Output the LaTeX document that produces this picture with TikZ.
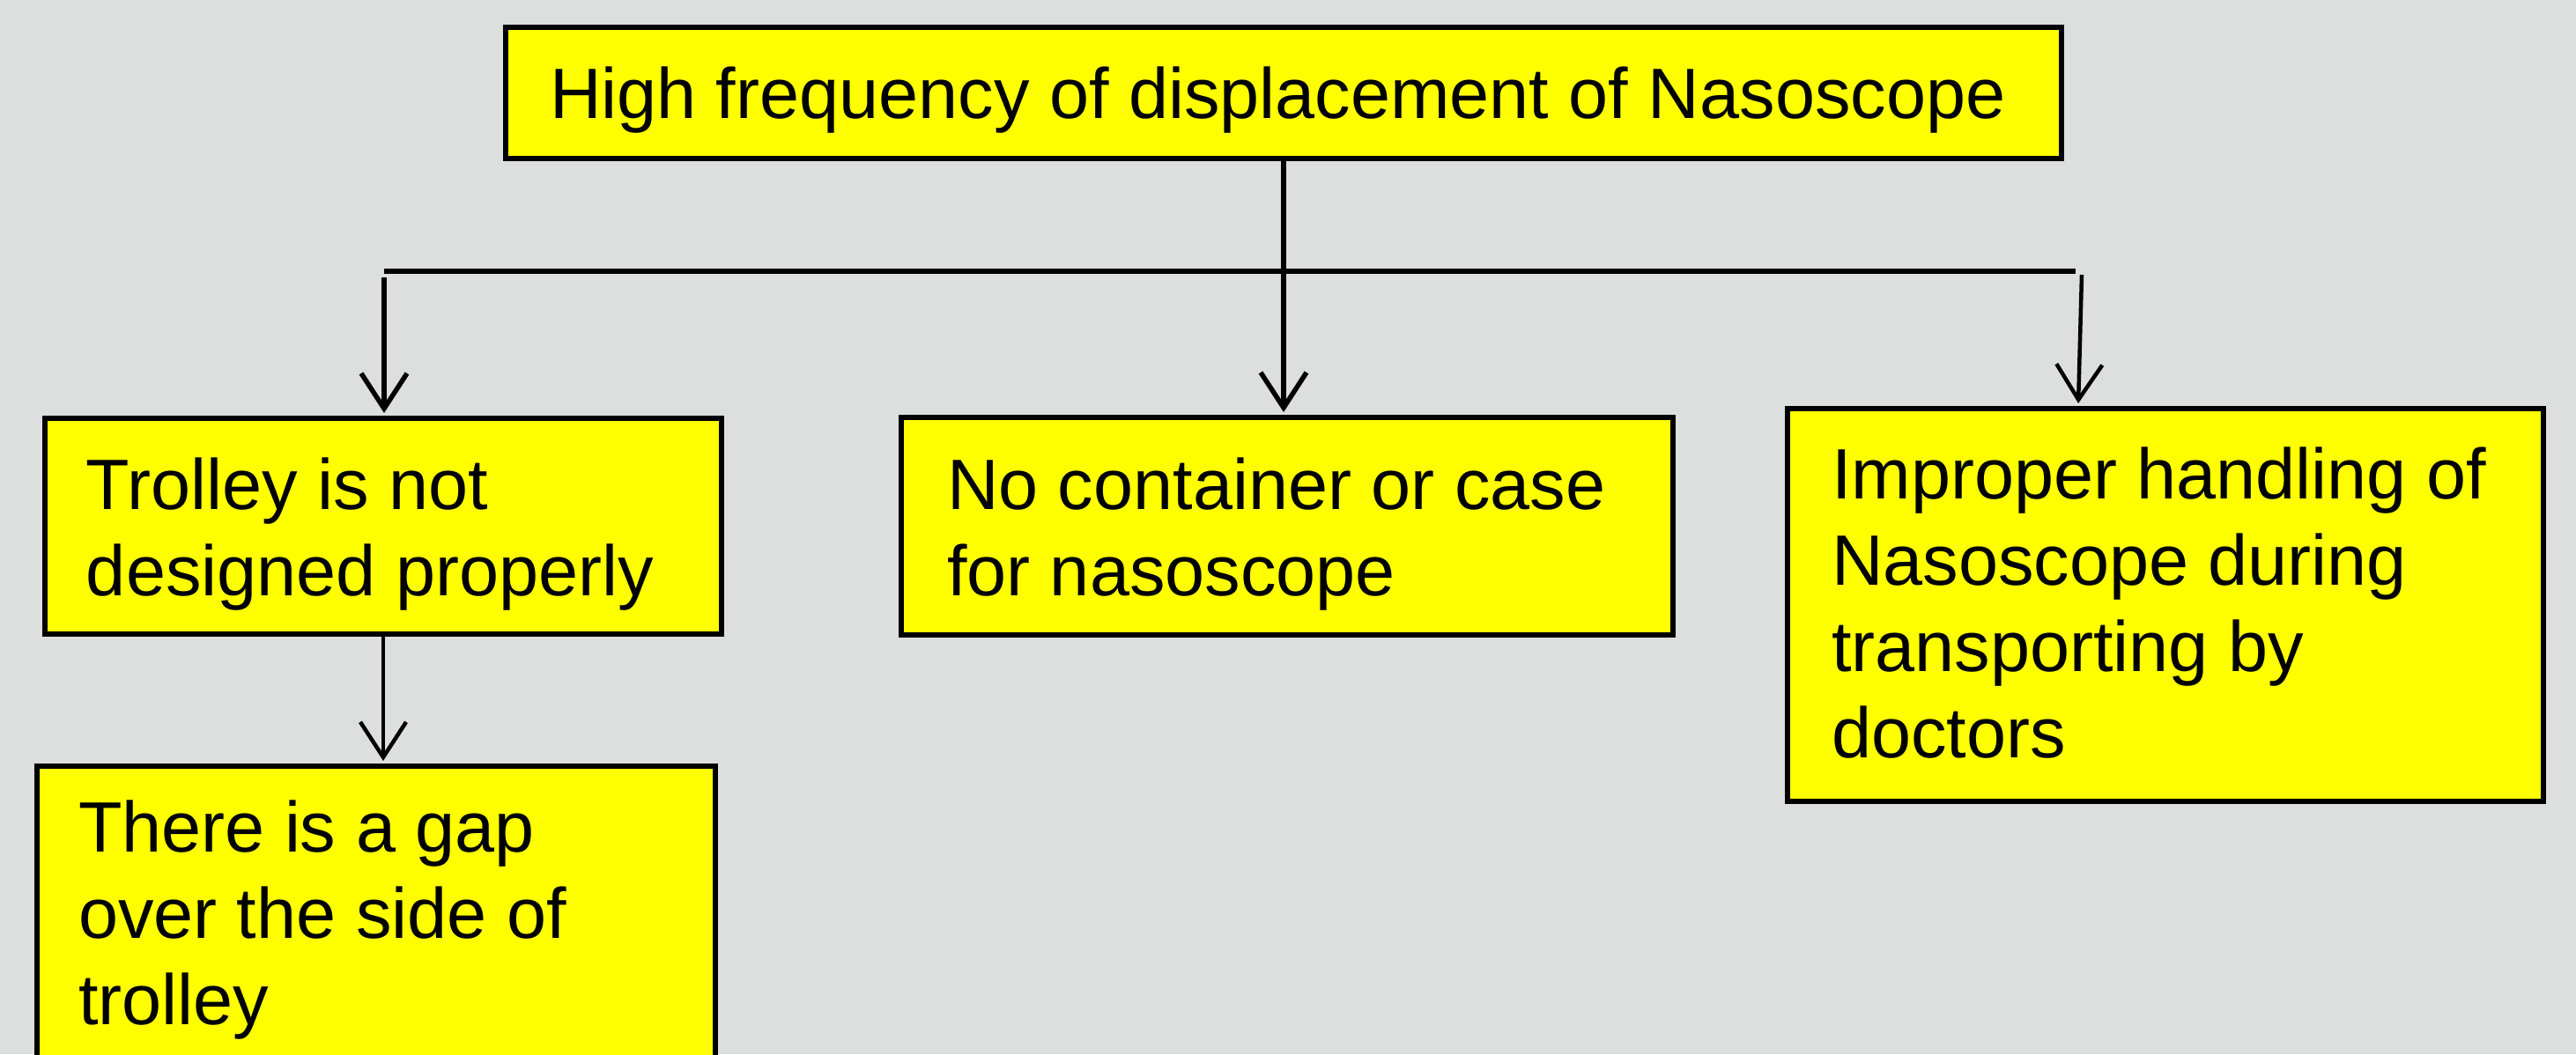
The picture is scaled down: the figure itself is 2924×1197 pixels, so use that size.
\documentclass[tikz,border=0pt]{standalone}
\usepackage{fontspec}
\setmainfont{Liberation Sans}
\usetikzlibrary{arrows.meta}
\definecolor{bggray}{RGB}{221,223,222}
\definecolor{boxyellow}{RGB}{255,255,0}
\newcommand\boxtext[5]{\parbox[t][#2][t]{#1}{\raggedright\leftskip=#3\relax\vspace*{#4}#5}}
\tikzset{
  box/.style={draw=black, line width=6pt, fill=boxyellow, inner sep=0pt, anchor=north west, rectangle,
    font=\fontsize{81pt}{98pt}\selectfont},
  conn/.style={draw=black, line width=5.5pt},
  arr/.style={conn, shorten >=3pt, -{Straight Barb[length=40pt,width=52pt]}},
  arrthin/.style={arr, line width=4.5pt},
}
\begin{document}
\begin{tikzpicture}[x=1pt,y=-1pt]
\useasboundingbox (0,0) rectangle (2924,1197);
\fill[bggray] (0,0) rectangle (2924,1197);

\node[box] (T) at (571,28) {\boxtext{1766pt}{149pt}{50pt}{45pt}{High frequency of displacement of Nasoscope}};
\node[box] (A) at (48,472) {\boxtext{768pt}{245pt}{47pt}{45pt}{Trolley is not\\designed properly}};
\node[box] (B) at (1020,471) {\boxtext{876pt}{247pt}{52pt}{46pt}{No container or case\\for nasoscope}};
\node[box] (C) at (2026,461) {\boxtext{858pt}{446pt}{50pt}{44pt}{Improper handling of\\Nasoscope during\\transporting by\\doctors}};
\node[box] (D) at (39,867) {\boxtext{770pt}{380pt}{47pt}{39pt}{There is a gap\\over the side of\\trolley}};

\coordinate (hl) at (436,308);
\coordinate (hr) at (2356,308);
\coordinate (la) at (436,315);
\coordinate (ra) at (2363,312);
\coordinate (rx) at (2359,0);

\draw[conn] (hl) -- (hr);
\draw[arr] (T.south) -- (T.south |- B.north);
\draw[arr] (la) -- (la |- A.north);
\draw[arrthin] (ra) -- (rx |- C.north);
\draw[arrthin] (A.south) -- (A.south |- D.north);
\end{tikzpicture}
\end{document}
